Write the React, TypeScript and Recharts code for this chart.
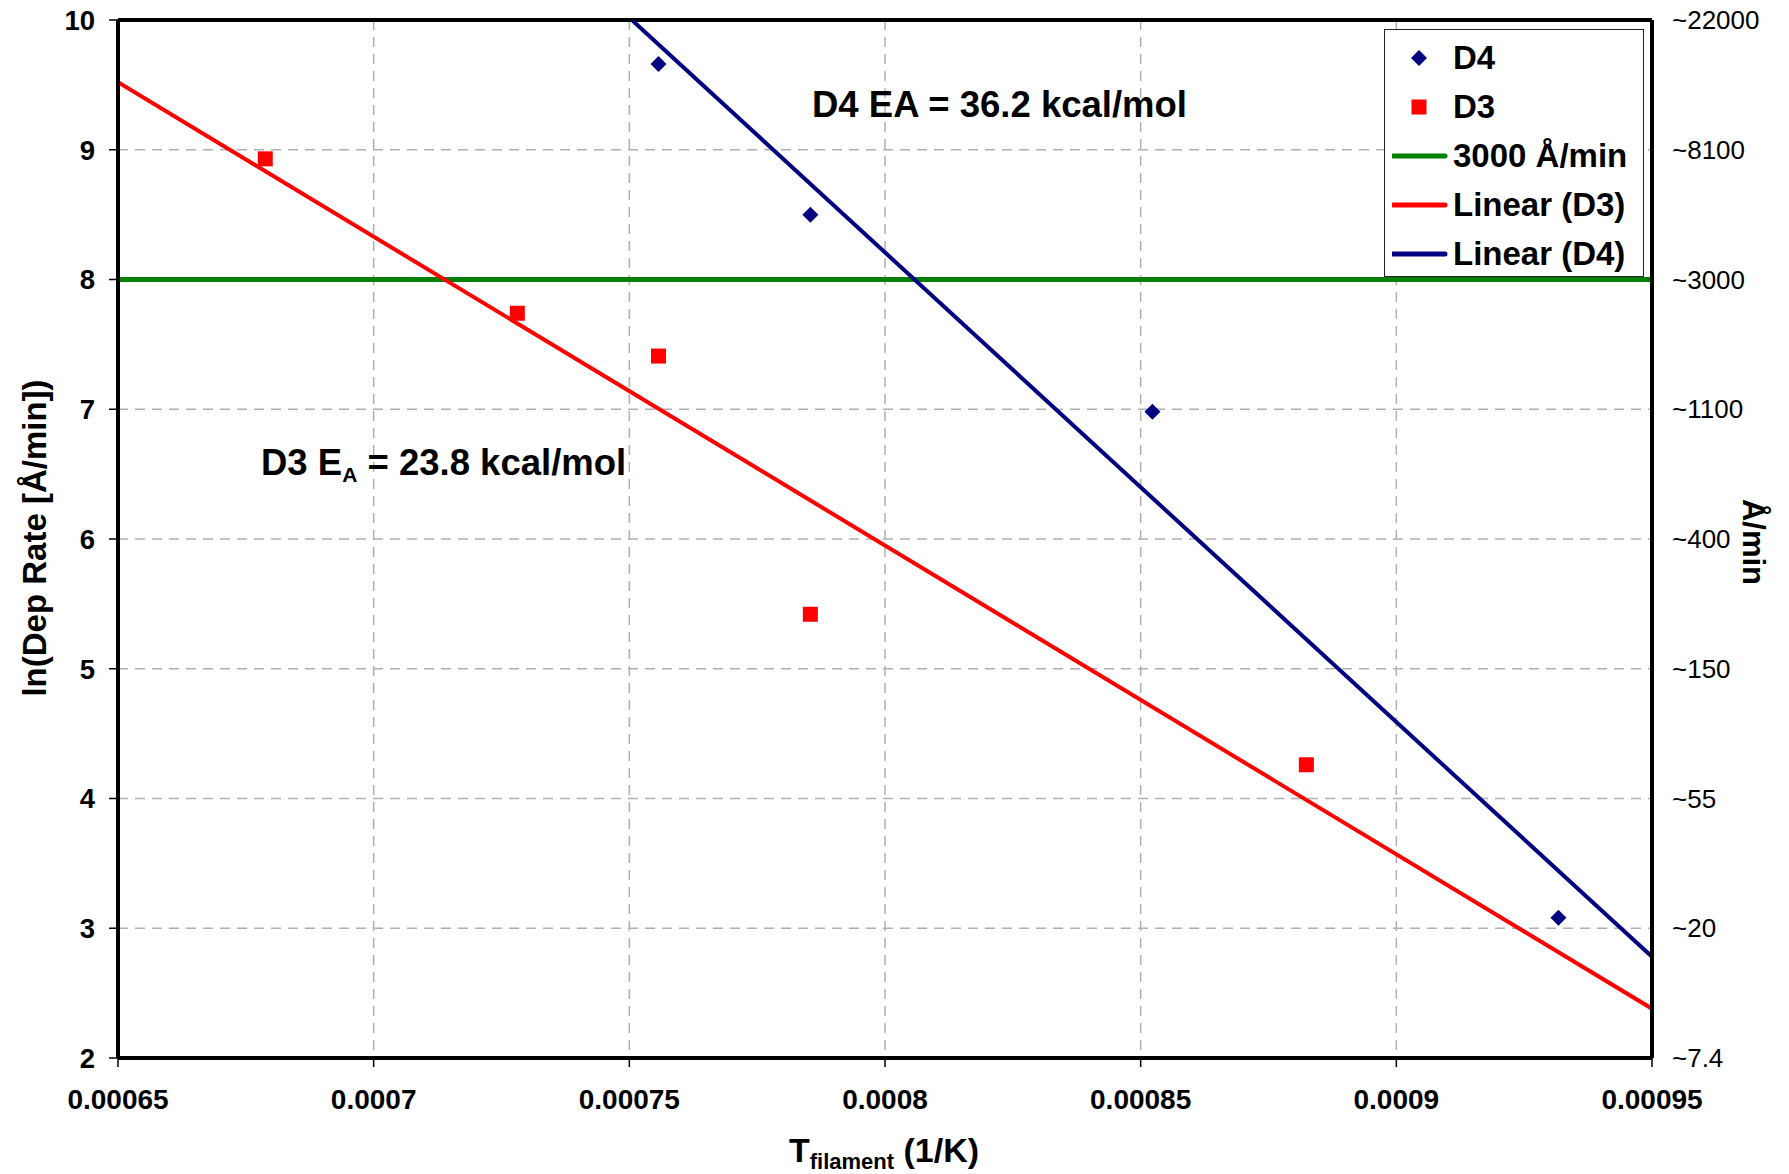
import React from 'react';
import { ComposedChart, Line, Scatter, XAxis, YAxis, CartesianGrid, Legend, ReferenceLine, Label } from 'recharts';

// measured points, ln(rate) vs 1/T
const d4Points = [
  { x: 0.0007557, y: 9.66 },
  { x: 0.0007854, y: 8.5 },
  { x: 0.0008523, y: 6.98 },
  { x: 0.0009317, y: 3.08 },
];

const d3Points = [
  { x: 0.0006788, y: 8.93 },
  { x: 0.0007281, y: 7.74 },
  { x: 0.0007557, y: 7.41 },
  { x: 0.0007854, y: 5.42 },
  { x: 0.0008824, y: 4.26 },
];

const ref3000 = [
  { x: 0.00065, y: 8 },
  { x: 0.00095, y: 8 },
];

const linearD3 = [
  { x: 0.00065, y: 9.52 },
  { x: 0.00095, y: 2.38 },
];

const linearD4 = [
  { x: 0.0007505, y: 10 },
  { x: 0.00095, y: 2.78 },
];

const xTicks = [0.00065, 0.0007, 0.00075, 0.0008, 0.00085, 0.0009, 0.00095];
const xTickLabels = ['0.00065', '0.0007', '0.00075', '0.0008', '0.00085', '0.0009', '0.00095'];
const yTicks = [2, 3, 4, 5, 6, 7, 8, 9, 10];
const rateTickLabels = ['~7.4', '~20', '~55', '~150', '~400', '~1100', '~3000', '~8100', '~22000'];

const legendItems = [
  { label: 'D4', kind: 'diamond', color: '#000080' },
  { label: 'D3', kind: 'square', color: '#ff0000' },
  { label: '3000 Å/min', kind: 'line', color: '#008000' },
  { label: 'Linear (D3)', kind: 'line', color: '#ff0000' },
  { label: 'Linear (D4)', kind: 'line', color: '#000080' },
];

const FONT = '"Liberation Sans", Arial, Helvetica, sans-serif';

const Diamond = (props: any) => {
  const { cx, cy } = props;
  if (cx == null || cy == null) return null;
  const r = 8;
  return <polygon points={`${cx},${cy - r} ${cx + r},${cy} ${cx},${cy + r} ${cx - r},${cy}`} fill="#000080" />;
};

const Square = (props: any) => {
  const { cx, cy } = props;
  if (cx == null || cy == null) return null;
  return <rect x={cx - 7.5} y={cy - 7.5} width={15} height={15} fill="#ff0000" />;
};

const rateTick = (props: any) => {
  const { x, y, index } = props;
  return (
    <text x={x} y={y} dy="0.355em" textAnchor="start" fontFamily={FONT} fontSize={26} fill="#000">
      {rateTickLabels[index]}
    </text>
  );
};

const renderLegend = () => (
  <div
    style={{
      width: 260,
      height: 248,
      boxSizing: 'border-box',
      border: '1px solid #222',
      background: '#fff',
      paddingTop: 3,
      fontFamily: FONT,
    }}
  >
    {legendItems.map((item) => (
      <div key={item.label} style={{ height: 49, display: 'flex', alignItems: 'center' }}>
        <svg width={60} height={20} style={{ marginLeft: 7 }}>
          {item.kind === 'diamond' && <polygon points="27,2 35,10 27,18 19,10" fill={item.color} />}
          {item.kind === 'square' && <rect x={19.5} y={2.5} width={15} height={15} fill={item.color} />}
          {item.kind === 'line' && <line x1={1} y1={10} x2={53} y2={10} stroke={item.color} strokeWidth={5} strokeLinecap="round" />}
        </svg>
        <span style={{ fontSize: 33, fontWeight: 700, color: '#000', marginLeft: 1, whiteSpace: 'nowrap' }}>{item.label}</span>
      </div>
    ))}
  </div>
);

const XTitle = () => (
  <text x={884} y={1162} textAnchor="middle" fontFamily={FONT} fontWeight={700} fill="#000" fontSize={34}>
    <tspan>T</tspan>
    <tspan fontSize={22} dy={7}>filament</tspan>
    <tspan dy={-7}> (1/K)</tspan>
  </text>
);

const YTitle = () => (
  <text
    x={34}
    y={538}
    transform="rotate(-90 34 538)"
    textAnchor="middle"
    dominantBaseline="central"
    fontFamily={FONT}
    fontWeight={700}
    fontSize={33}
    fill="#000"
  >
    ln(Dep Rate [Å/min])
  </text>
);

const RateTitle = () => (
  <text
    x={1753}
    y={542}
    transform="rotate(90 1753 542)"
    textAnchor="middle"
    dominantBaseline="central"
    fontFamily={FONT}
    fontWeight={700}
    fontSize={31}
    fill="#000"
  >
    Å/min
  </text>
);

export default function App() {
  return (
    <div style={{ position: 'absolute', left: 0, top: 0, width: 1789, height: 1174, background: '#fff', fontFamily: FONT }}>
      <ComposedChart width={1789} height={1174} margin={{ top: 20, right: 0, bottom: 0, left: 0 }}>
        <CartesianGrid stroke="#b0b0b0" strokeDasharray="10 7" strokeWidth={1.5} />
        <XAxis
          type="number"
          dataKey="x"
          domain={[0.00065, 0.00095]}
          ticks={xTicks}
          interval={0}
          tickFormatter={(v: number, i: number) => xTickLabels[i]}
          height={116}
          tickSize={9}
          tickMargin={22}
          axisLine={{ stroke: '#000', strokeWidth: 4 }}
          tickLine={{ stroke: '#000', strokeWidth: 1.5 }}
          tick={{ fill: '#000', fontSize: 28, fontWeight: 700, fontFamily: FONT }}
          allowDataOverflow
        >
          <Label content={XTitle} />
        </XAxis>
        <YAxis
          type="number"
          dataKey="y"
          domain={[2, 10]}
          ticks={yTicks}
          interval={0}
          width={118}
          tickSize={9}
          tickMargin={14}
          axisLine={{ stroke: '#000', strokeWidth: 4 }}
          tickLine={{ stroke: '#000', strokeWidth: 1.5 }}
          tick={{ fill: '#000', fontSize: 27.5, fontWeight: 700, fontFamily: FONT }}
          allowDataOverflow
        >
          <Label content={YTitle} />
        </YAxis>
        <YAxis
          yAxisId="rate"
          orientation="right"
          type="number"
          dataKey="y"
          domain={[2, 10]}
          ticks={yTicks}
          interval={0}
          width={137}
          tickSize={0}
          tickMargin={20}
          axisLine={{ stroke: '#000', strokeWidth: 4 }}
          tickLine={false}
          tick={rateTick}
          allowDataOverflow
        >
          <Label content={RateTitle} />
        </YAxis>
        <ReferenceLine y={10} stroke="#000" strokeWidth={4} />
        <Line yAxisId="rate" data={ref3000} dataKey="y" name="3000 Å/min" stroke="#008000" strokeWidth={5} dot={false} activeDot={false} isAnimationActive={false} />
        <Line data={linearD3} dataKey="y" name="Linear (D3)" stroke="#ff0000" strokeWidth={4} dot={false} activeDot={false} isAnimationActive={false} />
        <Line data={linearD4} dataKey="y" name="Linear (D4)" stroke="#000080" strokeWidth={4} dot={false} activeDot={false} isAnimationActive={false} />
        <Scatter data={d4Points} dataKey="y" name="D4" fill="#000080" shape={Diamond} isAnimationActive={false} />
        <Scatter data={d3Points} dataKey="y" name="D3" fill="#ff0000" shape={Square} isAnimationActive={false} />
        <Legend
          layout="vertical"
          align="center"
          verticalAlign="middle"
          content={renderLegend}
          wrapperStyle={{ left: 1384, top: 29, width: 260, height: 248 }}
        />
      </ComposedChart>
      <svg width={1789} height={1174} style={{ position: 'absolute', left: 0, top: 0, pointerEvents: 'none' }}>
        <text x={812} y={117} fontFamily={FONT} fontWeight={700} fontSize={36.5} fill="#000">
          D4 EA = 36.2 kcal/mol
        </text>
        <text x={261} y={475} fontFamily={FONT} fontWeight={700} fontSize={36.5} fill="#000">
          <tspan>D3 E</tspan>
          <tspan fontSize={21} dy={7}>A</tspan>
          <tspan dy={-7}> = 23.8 kcal/mol</tspan>
        </text>
      </svg>
    </div>
  );
}
